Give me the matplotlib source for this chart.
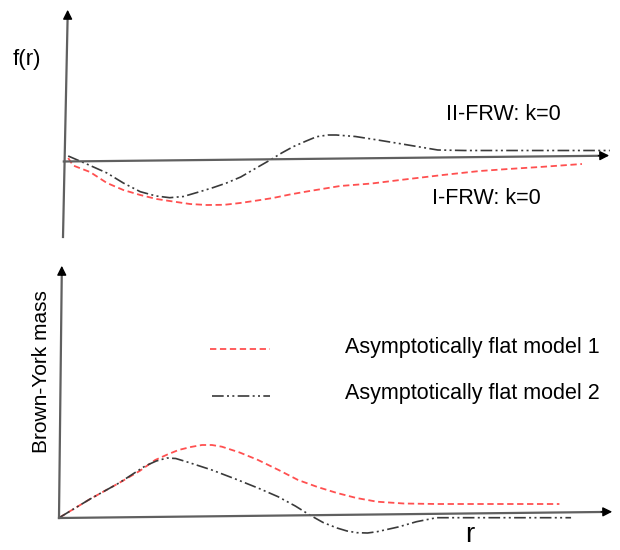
import matplotlib
matplotlib.use("Agg")
import matplotlib.pyplot as plt

plt.rcParams['font.family'] = ['Liberation Sans', 'DejaVu Sans']

# ---- Top panel data: f(r) for two FRW models ----
r_frw1 = [0.04, 0.13, 0.44, 0.75, 1.05, 1.36, 1.66, 1.96, 2.27, 2.58, 2.9, 3.19, 3.5, 3.79,
          4.1, 4.41, 5.02, 5.6, 6.12, 6.9, 7.58, 8.1, 8.68, 9.45]
f_frw1 = [0.3, -0.45, -1.1, -2.2, -2.9, -3.4, -3.8, -4.05, -4.3, -4.4, -4.38, -4.2, -3.95, -3.7,
          -3.35, -3.05, -2.5, -2.25, -1.9, -1.4, -1.0, -0.8, -0.6, -0.3]
r_frw2 = [0.04, 0.4, 0.75, 1.05, 1.36, 1.65, 1.9, 2.15, 2.45, 2.7, 2.94, 3.2, 3.42, 3.74,
          3.95, 4.16, 4.4, 4.59, 4.8, 4.95, 5.3, 5.71, 6.1, 6.45, 6.81, 7.3, 7.95, 9.0, 9.96]
f_frw2 = [0.5, -0.35, -1.2, -2.2, -3.07, -3.5, -3.67, -3.55, -3.07, -2.65, -2.2, -1.6, -0.9, 0.1,
          0.8, 1.43, 2.0, 2.43, 2.6, 2.6, 2.45, 2.1, 1.75, 1.43, 1.1, 1.05, 1.05, 1.05, 1.05]

# ---- Bottom panel data: Brown-York mass ----
r_m1 = [0.01, 0.56, 1.08, 1.45, 1.73, 1.95, 2.15, 2.37, 2.57, 2.75, 2.93, 3.25, 3.58, 3.95, 4.3,
        4.65, 5.0, 5.35, 5.72, 6.2, 6.79, 8.0, 9.0]
m_m1 = [0.05, 1.9, 3.5, 4.7, 5.8, 6.35, 6.8, 7.1, 7.3, 7.3, 7.13, 6.55, 5.8, 4.8, 3.8,
        3.1, 2.5, 2.0, 1.63, 1.45, 1.4, 1.4, 1.4]
r_m2 = [0.01, 0.56, 1.08, 1.55, 1.75, 1.94, 2.1, 2.29, 2.75, 3.22, 3.6, 3.94, 4.25, 4.51, 4.75,
        5.0, 5.18, 5.36, 5.55, 5.72, 6.1, 6.43, 6.79, 8.0, 9.21]
m_m2 = [0.05, 1.9, 3.5, 5.2, 5.7, 6.0, 5.95, 5.63, 4.8, 3.8, 2.95, 2.13, 1.2, 0.3, -0.45,
        -1.0, -1.3, -1.47, -1.5, -1.37, -0.9, -0.37, 0.03, 0.03, 0.03]

legend_labels = ["Asymptotically flat model 1", "Asymptotically flat model 2"]
top_labels = ["II-FRW: k=0", "I-FRW: k=0"]

RED = '#ff5050'
BLK = '#3a3a3a'
AXC = '#606060'
dashdotdot = (0, (7, 2, 1.2, 2, 1.2, 2))
FS = 15.5

fig = plt.figure(figsize=(6.2, 5.5), dpi=100)

# top panel
ax1 = fig.add_axes([0, 300/550, 1, 250/550])
ax1.set_xlim(-1.209, 10.147)
ax1.set_ylim(-8.9, 16.1)
ax1.axis('off')
ax1.plot(r_frw1, f_frw1, color=RED, lw=1.3, linestyle=(0, (3.5, 2)))
ax1.plot(r_frw2, f_frw2, color=BLK, lw=1.2, linestyle=dashdotdot)
# axes arrows
ax1.plot([-0.055, 0.03], [-7.6, 14.5], color=AXC, lw=1.6)
ax1.annotate('', xy=(0.03, 15.4), xytext=(0.03, 14.0),
             arrowprops=dict(arrowstyle='-|>', color='black', lw=1.0, mutation_scale=14))
ax1.plot([-0.04, 9.75], [-0.05, 0.52], color=AXC, lw=1.6)
ax1.annotate('', xy=(10.0, 0.55), xytext=(9.7, 0.53),
             arrowprops=dict(arrowstyle='-|>', color='black', lw=1.0, mutation_scale=14))
ax1.text(-0.98, 10.1, 'f(r)', fontsize=16, va='center', ha='left')
ax1.text(6.96, 4.6, top_labels[0], fontsize=FS, va='center', ha='left')
ax1.text(6.70, -3.7, top_labels[1], fontsize=FS, va='center', ha='left')

# bottom panel
ax2 = fig.add_axes([0, 0, 1, 300/550])
ax2.set_xlim(-1.061, 10.09)
ax2.set_ylim(-3.2, 26.8)
ax2.axis('off')
ax2.plot(r_m1, m_m1, color=RED, lw=1.3, linestyle=(0, (3.5, 2)))
ax2.plot(r_m2, m_m2, color=BLK, lw=1.2, linestyle=dashdotdot)
ax2.plot([0, 0.05], [0, 24.5], color=AXC, lw=1.6)
ax2.annotate('', xy=(0.05, 25.5), xytext=(0.05, 24.0),
             arrowprops=dict(arrowstyle='-|>', color='black', lw=1.0, mutation_scale=14))
ax2.plot([0, 9.75], [0, 0.6], color=AXC, lw=1.6)
ax2.annotate('', xy=(10.0, 0.63), xytext=(9.7, 0.61),
             arrowprops=dict(arrowstyle='-|>', color='black', lw=1.0, mutation_scale=14))
ax2.text(-0.31, 14.6, 'Brown-York mass', fontsize=15, rotation=90, va='center', ha='center')
ax2.text(7.39, -2.45, 'r', fontsize=20, va='baseline', ha='center')
# legend
ax2.plot([2.72, 3.79], [16.9, 16.9], color=RED, lw=1.3, linestyle=(0, (3.5, 2)))
ax2.plot([2.75, 3.79], [12.2, 12.2], color=BLK, lw=1.2, linestyle=dashdotdot)
ax2.text(5.14, 17.1, legend_labels[0], fontsize=FS, va='center', ha='left')
ax2.text(5.14, 12.5, legend_labels[1], fontsize=FS, va='center', ha='left')

fig.savefig('out.png', dpi=100)
